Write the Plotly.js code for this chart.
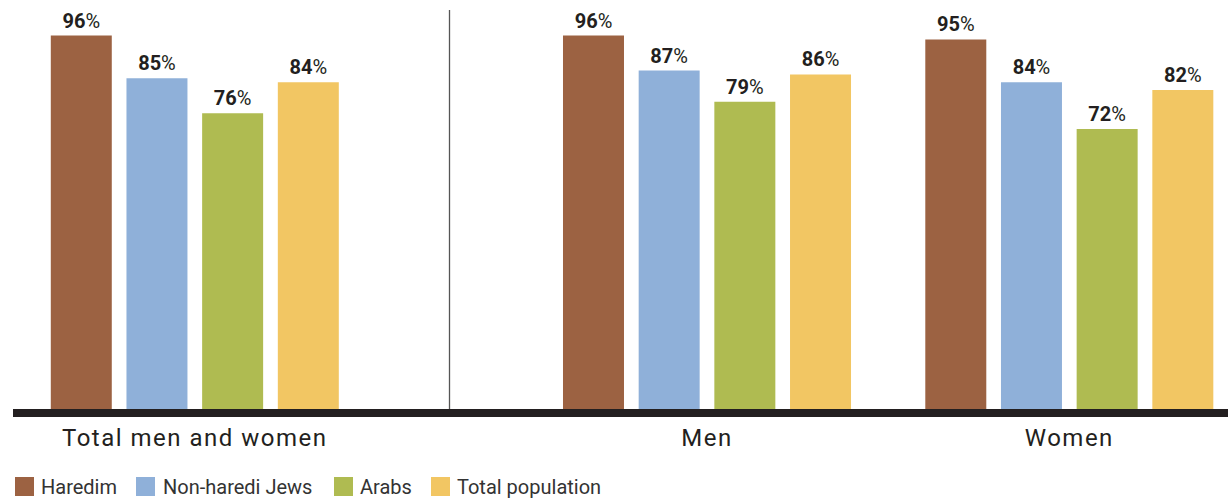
<!DOCTYPE html>
<html>
<head>
<meta charset="utf-8">
<script src="https://cdn.plot.ly/plotly-3.0.1.min.js"></script>
<style>
html,body{margin:0;padding:0;background:#fff;}
#chart{width:1228px;height:502px;}
#chart .xtick text, #chart .x2tick text{letter-spacing:1.5px;}
</style>
</head>
<body>
<div id="chart"></div>
<script>
const categories = ['Total men and women', 'Men', 'Women'];
const seriesNames = ['Haredim', 'Non-haredi Jews', 'Arabs', 'Total population'];
const haredim = [96, 96, 95];
const nonHarediJews = [85, 87, 84];
const arabs = [76, 79, 72];
const totalPopulation = [84, 86, 82];
const colors = ['#9c6242', '#8fb0d9', '#afbb51', '#f2c663'];

const W = 1228, H = 502;
const seriesValues = [haredim, nonHarediJews, arabs, totalPopulation];
const traces = [];
seriesValues.forEach((vals, i) => {
  const common = {
    type: 'bar',
    name: seriesNames[i],
    legendgroup: seriesNames[i],
    marker: {color: colors[i]},
    texttemplate: '<b>%{y}</b>%',
    textposition: 'outside',
    textfont: {family: 'Roboto', size: 20, color: '#231f20'},
    cliponaxis: false,
    hoverinfo: 'skip',
    showlegend: false
  };
  traces.push(Object.assign({}, common, {
    x: categories.slice(0, 1), y: vals.slice(0, 1), xaxis: 'x', yaxis: 'y'
  }));
  traces.push(Object.assign({}, common, {
    x: categories.slice(1), y: vals.slice(1), xaxis: 'x2', yaxis: 'y'
  }));
});

const plotTop = 20, plotBottomMargin = 93, plotH = H - plotTop - plotBottomMargin;
const plotBottomPx = H - plotBottomMargin;
const pyToPaper = py => (plotBottomPx - py) / plotH;

// Legend drawn as swatches + labels (layout positions in px)
const legendSwatchX = [15, 136, 334, 431];
const legendTextX = [39, 161, 358, 455];
const legendY0 = 477, legendY1 = 496;
const legendShapes = seriesNames.map((n, i) => ({
  type: 'rect', xref: 'paper', yref: 'paper',
  x0: legendSwatchX[i] / W, x1: (legendSwatchX[i] + 19) / W,
  y0: pyToPaper(legendY1), y1: pyToPaper(legendY0),
  fillcolor: colors[i], line: {width: 0}
}));
const legendAnnotations = seriesNames.map((n, i) => ({
  text: n, xref: 'paper', yref: 'paper', x: legendTextX[i] / W, y: pyToPaper((legendY0 + legendY1) / 2),
  xanchor: 'left', yanchor: 'middle', showarrow: false,
  font: {family: 'Roboto', size: 20, color: '#333333'}
}));

const axisCommon = {
  type: 'category', showgrid: false, zeroline: false, showline: false, ticks: '',
  tickfont: {family: 'Roboto', size: 24, color: '#231f20'}, ticklabelstandoff: 12,
  fixedrange: true, automargin: false
};
const layout = {
  width: W, height: H,
  margin: {l: 0, r: 0, t: plotTop, b: plotBottomMargin, autoexpand: false},
  paper_bgcolor: '#fff', plot_bgcolor: '#fff',
  barmode: 'group', bargap: 0.1645, bargroupgap: 0.194,
  xaxis: Object.assign({}, axisCommon, {domain: [13.65 / W, 375.95 / W], range: [-0.5, 0.5]}),
  xaxis2: Object.assign({}, axisCommon, {domain: [525.85 / W, 1], range: [-0.5, 1.438], anchor: 'y'}),
  yaxis: {range: [0, 100], visible: false, fixedrange: true},
  showlegend: false,
  annotations: legendAnnotations,
  shapes: [
    {type: 'rect', xref: 'paper', yref: 'paper', x0: 13 / W, x1: 1, y0: pyToPaper(417), y1: 0,
     fillcolor: '#231f20', line: {width: 0}, layer: 'above'},
    {type: 'line', xref: 'paper', yref: 'paper', x0: 449.5 / W, x1: 449.5 / W, y0: 0, y1: pyToPaper(10),
     line: {color: '#555555', width: 1.3}}
  ].concat(legendShapes)
};
Plotly.newPlot('chart', traces, layout, {displayModeBar: false, staticPlot: true});
</script>
</body>
</html>
